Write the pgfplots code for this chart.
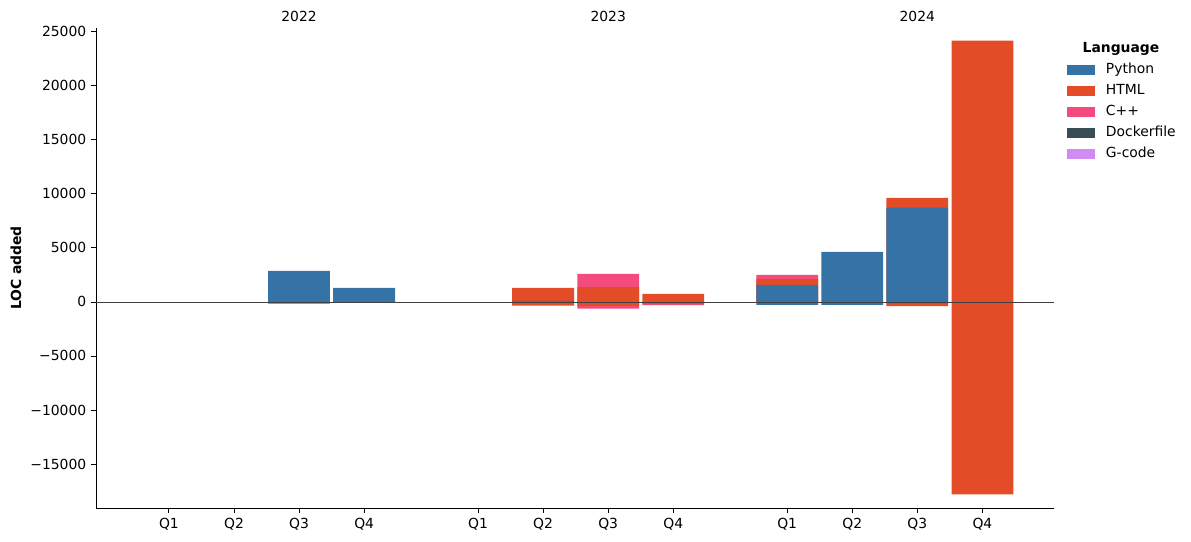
\documentclass[border=0pt]{standalone}
\usepackage{fontspec}
\setmainfont{DejaVu Sans}
\usepackage{pgfplots}
\pgfplotsset{compat=1.18}
\definecolor{cPy}{HTML}{3572A5}
\definecolor{cHtml}{HTML}{E34C26}
\definecolor{cCpp}{HTML}{F34B7D}
\definecolor{cDock}{HTML}{384D54}
\definecolor{cGc}{HTML}{D08CF2}
\pgfplotsset{
  layer/.style={ybar, bar width=0.95, bar shift=0pt, draw=none, fill=#1, forget plot},
  sqlegend/.style={legend image code/.code={\fill[draw=none, fill=#1] (0pt,-3.6pt) rectangle (20.16pt,3.6pt);}},
}
\begin{document}
\begin{tikzpicture}
\useasboundingbox (-69.12pt,-24.48pt) rectangle (788.4pt,365.76pt);
\begin{axis}[
  at={(0pt,0pt)}, anchor=south west,
  scale only axis, width=689.76pt, height=345.6pt,
  xmin=-1.12, xmax=13.6, ymin=-19074, ymax=25352,
  scaled y ticks=false,
  axis x line*=bottom, axis y line*=left,
  axis line style={line width=0.58pt, -},
  tick align=outside, major tick length=3.5pt,
  tick style={line width=0.58pt, black},
  xtick={0,1,2,3,4.75,5.75,6.75,7.75,9.5,10.5,11.5,12.5},
  xticklabels={Q1,Q2,Q3,Q4,Q1,Q2,Q3,Q4,Q1,Q2,Q3,Q4},
  ytick={-15000,-10000,-5000,0,5000,10000,15000,20000,25000},
  yticklabels={−15000,−10000,−5000,0,5000,10000,15000,20000,25000},
  ticklabel style={font=\fontsize{10}{12}\selectfont},
  clip=false,
  legend style={draw=none, fill=none, at={(rel axis cs:1,1)}, anchor=north west,
    xshift=9.36pt, yshift=-22.64pt, inner sep=0pt, outer sep=0pt,
    row sep=0pt, column sep=7.9pt,
    nodes={inner sep=0pt, text height=7.5pt, text depth=2pt, minimum height=15.12pt, anchor=west},
    font=\fontsize{10}{12}\selectfont},
  legend cell align=left,
]
\addlegendimage{sqlegend=cPy}\addlegendentry{Python}
\addlegendimage{sqlegend=cHtml}\addlegendentry{HTML}
\addlegendimage{sqlegend=cCpp}\addlegendentry{C++}
\addlegendimage{sqlegend=cDock}\addlegendentry{Dockerfile}
\addlegendimage{sqlegend=cGc}\addlegendentry{G-code}

% positive stacks (cumulative tops, drawn from the top layer down)
\addplot[layer=cCpp] coordinates {(6.75,2590) (9.5,2500)};
\addplot[layer=cHtml] coordinates {(5.75,1300) (6.75,1390) (7.75,740) (9.5,2130) (11.5,9630) (12.5,24194)};
\addplot[layer=cPy] coordinates {(2,2870) (3,1300) (5.75,100) (9.5,1570) (10.5,4630) (11.5,8730)};
% negative stacks (cumulative bottoms)
\addplot[layer=cCpp] coordinates {(6.75,-620) (7.75,-300)};
\addplot[layer=cHtml] coordinates {(5.75,-340) (6.75,-400) (7.75,-200) (11.5,-380) (12.5,-17815)};
\addplot[layer=cPy] coordinates {(2,-170) (9.5,-280) (10.5,-280) (11.5,-130)};
% zero line
\addplot[black!75, line width=0.58pt, forget plot] coordinates {(-1.12,0) (13.6,0)};

\node[font=\fontsize{10}{12}\selectfont] at ([yshift=8.64pt]axis cs:2,25352) {2022};
\node[font=\fontsize{10}{12}\selectfont] at ([yshift=8.64pt]axis cs:6.75,25352) {2023};
\node[font=\fontsize{10}{12}\selectfont] at ([yshift=8.64pt]axis cs:11.5,25352) {2024};
\node[rotate=90, font=\fontsize{10}{12}\selectfont\bfseries] at ([xshift=-57.6pt]rel axis cs:0,0.5) {LOC added};
\node[font=\fontsize{10}{12}\selectfont\bfseries] at ([xshift=48.24pt, yshift=-15.1pt]rel axis cs:1,1) {Language};
\end{axis}
\end{tikzpicture}
\end{document}
